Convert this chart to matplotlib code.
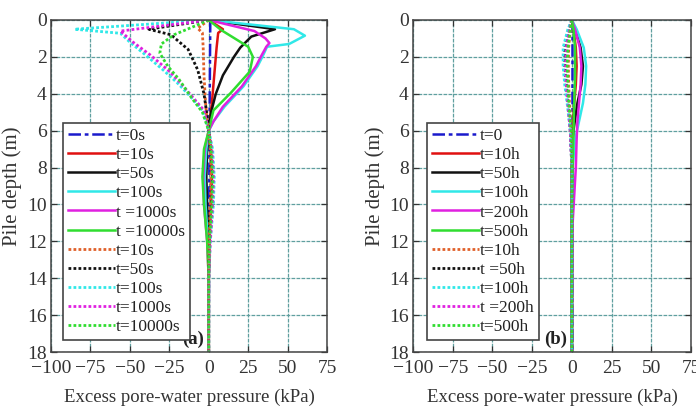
import matplotlib
matplotlib.use("Agg")
import matplotlib.pyplot as plt
import numpy as np

plt.rcParams['font.family'] = ['Liberation Serif', 'DejaVu Serif']
plt.rcParams['axes.unicode_minus'] = True

# ---------------- Panel (a) data ----------------
a_labels = ['t=0s', 't=10s', 't=50s', 't=100s', 't =1000s', 't =10000s',
            't=10s', 't=50s', 't=100s', 't=1000s', 't=10000s']

a_blue_d = [0, 6, 18]
a_blue_v = [1, 0.5, 0]

a_red_d = [0, 0.5, 0.7, 1.5, 3, 4.5, 6, 7, 8.5, 10, 12, 14, 18]
a_red_v = [0, 9, 6, 5, 3.5, 2, 0, 1.5, 2, 1.5, 0.5, 0, 0]

a_blk_d = [0, 0.5, 0.9, 1.5, 2, 3, 4, 5, 6, 7, 8.5, 10, 12, 14, 18]
a_blk_v = [0, 42, 27, 20, 16, 9, 4.5, 1.5, 0, -1, -1.5, -1, 0, 0, 0]

a_cyn_d = [0, 0.5, 0.85, 1.3, 1.45, 2, 2.5, 3.6, 4.7, 5.5, 6, 7, 8.5, 10, 12, 14, 18]
a_cyn_v = [0, 54, 61, 51, 37, 34, 31, 22, 10, 3, 0, -1.5, -2.5, -2, -0.5, 0, 0]

a_mag_d = [0, 0.6, 1.0, 1.25, 1.45, 2, 2.5, 3.6, 4.7, 5.5, 6, 7, 8.5, 10, 12, 14, 18]
a_mag_v = [0, 29, 36, 38.5, 36.5, 33, 30, 21, 9, 3, 0, -2.5, -3.5, -3, -1, 0, 0]

a_grn_d = [0, 0.55, 1.45, 2, 2.8, 3.95, 4.9, 6, 7, 8.5, 10, 12, 14, 18]
a_grn_v = [0, 8, 25, 28, 26, 14, 3, 0, -3, -4, -3, -1, 0, 0]

a_redd_d = [0, 0.45, 0.7, 1.5, 3, 4.5, 5.5, 6, 7, 8.5, 10, 12, 14, 18]
a_redd_v = [0, -7, -4, -3.5, -3, -2, -1, 0, 1, 1.5, 1, 0.3, 0, 0]

a_blkd_d = [0, 0.5, 0.8, 1.6, 2.7, 4, 5.2, 6, 7, 8.5, 10, 12, 14, 18]
a_blkd_v = [0, -38, -24, -13, -7, -3, -1, 0, 1.5, 2.5, 2, 0.5, 0, 0]

a_cynd_d = [0, 0.5, 0.72, 1.2, 1.9, 2.7, 3.4, 4.2, 4.9, 6, 7, 8.5, 10, 12, 14, 18]
a_cynd_v = [0, -85, -56, -50, -40, -29, -20, -11, -4, 0, 2.5, 3.5, 3, 1, 0, 0]

a_magd_d = [0, 0.6, 1.2, 1.9, 2.7, 3.4, 4.2, 4.9, 6, 7, 8.5, 10, 12, 14, 18]
a_magd_v = [0, -56, -48, -37, -26, -18, -10, -3, 0, 2, 3, 2.5, 1, 0, 0]

a_grnd_d = [0, 0.3, 0.8, 1.3, 1.8, 2.5, 3.2, 4.2, 5.0, 6, 7, 8.5, 10, 12, 14, 18]
a_grnd_v = [0, -8, -22, -30, -31, -26, -19, -11, -4, 0, 1.5, 2.5, 2, 0.5, 0, 0]

# ---------------- Panel (b) data ----------------
b_labels = ['t=0', 't=10h', 't=50h', 't=100h', 't=200h', 't=500h',
            't=10h', 't =50h', 't=100h', 't =200h', 't=500h']

b_blue_d = [0, 18]
b_blue_v = [0, 0]

b_std_d = [0, 0.5, 1.5, 2.5, 3.5, 4.5, 6, 8, 18]
b_red_v = [0, 1, 2.5, 3, 2.5, 1.5, 0.5, 0, 0]
b_blk_v = [0, 2, 5.5, 7, 6, 3.5, 1, 0, 0]

b_cyn_d = [0, 0.5, 1.5, 2.5, 3.5, 4.5, 5.5, 6.5, 8, 18]
b_cyn_v = [0, 3, 7.5, 9, 8.5, 7, 4.5, 2, 0.5, 0]

b_mag_d = [0, 0.5, 1.5, 2.5, 3.5, 4.5, 5.5, 6.5, 8, 9.5, 11, 18]
b_mag_v = [0, 2, 5, 6, 5.5, 4.5, 3.5, 3, 2.5, 1.5, 0.5, 0]

b_grn_d = [0, 0.5, 1.5, 3, 4.5, 6, 8, 10, 18]
b_grn_v = [0, 1, 2, 2, 1.5, 1, 0.5, 0, 0]

b_redd_v = [0, -1, -2, -2.2, -2, -1.5, -0.5, 0, 0]
b_blkd_v = [0, -2, -4.5, -4.5, -3.5, -2.5, -1, 0, 0]
b_cynd_v = [0, -2.5, -5.5, -5.5, -4.5, -3, -1, 0, 0]
b_magd_v = [0, -1.5, -3.5, -4, -3.5, -2.5, -1, 0, 0]
b_grnd_v = [0, -1, -2.5, -3, -2.5, -2, -0.5, 0, 0]

x_ticks = [-100, -75, -50, -25, 0, 25, 50, 75]
y_ticks = [0, 2, 4, 6, 8, 10, 12, 14, 16, 18]

# ---------------- styles ----------------
C_BLUE = '#1a1acc'
C_RED = '#e01010'
C_BLK = '#111111'
C_CYN = '#30e8e8'
C_MAG = '#e020e0'
C_GRN = '#30dd30'
C_REDD = '#e0602a'

LW = 1.8
DOT = (0, (1, 0.8))
DASHDOT = (0, (5, 1.5, 1.5, 1.5))


def style_axes(ax, ylab_x):
    ax.set_xlim(-100, 75)
    ax.set_ylim(18, 0)
    ax.set_xticks(x_ticks)
    ax.set_yticks(y_ticks)
    ax.grid(True, color='#5f9f9f', linestyle=(0, (3, 1)), linewidth=0.9)
    ax.set_axisbelow(True)
    ax.tick_params(direction='in', top=True, right=True, length=4,
                   labelsize=14, colors='#333333', width=0.9)
    ax.tick_params(axis='x', pad=5.5)
    ax.tick_params(axis='y', pad=3)
    for s in ax.spines.values():
        s.set_color('#444444')
        s.set_linewidth(1.1)
    ax.set_xlabel('Excess pore-water pressure (kPa)', fontsize=13.5,
                  color='#333333')
    ax.xaxis.set_label_coords(0.5, -0.136)
    ax.xaxis.label.set_va('center')
    ax.set_ylabel('Pile depth (m)', fontsize=15, color='#333333')
    ax.yaxis.set_label_coords(ylab_x, 0.5)
    ax.yaxis.label.set_va('center')


fig = plt.figure(figsize=(6.96, 4.11), dpi=100)
ax1 = fig.add_axes([51 / 696, 59 / 411, 276 / 696, 332 / 411])
ax2 = fig.add_axes([413 / 696, 59 / 411, 278 / 696, 332 / 411])

# Panel (a)
a_series = [
    (a_blue_v, a_blue_d, C_BLUE, DASHDOT, LW),
    (a_red_v, a_red_d, C_RED, '-', LW),
    (a_blk_v, a_blk_d, C_BLK, '-', LW),
    (a_cyn_v, a_cyn_d, C_CYN, '-', LW),
    (a_mag_v, a_mag_d, C_MAG, '-', LW),
    (a_grn_v, a_grn_d, C_GRN, '-', LW),
    (a_redd_v, a_redd_d, C_REDD, DOT, 2.0),
    (a_blkd_v, a_blkd_d, C_BLK, DOT, 2.0),
    (a_cynd_v, a_cynd_d, C_CYN, DOT, 2.0),
    (a_magd_v, a_magd_d, C_MAG, DOT, 2.0),
    (a_grnd_v, a_grnd_d, C_GRN, DOT, 2.0),
]
for (v, d, c, ls, lw), lab in zip(a_series, a_labels):
    ax1.plot(v, d, color=c, linestyle=ls, linewidth=lw, label=lab)

# Panel (b)
b_series = [
    (b_blue_v, b_blue_d, C_BLUE, DASHDOT, LW),
    (b_red_v, b_std_d, C_RED, '-', LW),
    (b_blk_v, b_std_d, C_BLK, '-', LW),
    (b_cyn_v, b_cyn_d, C_CYN, '-', LW),
    (b_mag_v, b_mag_d, C_MAG, '-', LW),
    (b_grn_v, b_grn_d, C_GRN, '-', LW),
    (b_redd_v, b_std_d, C_REDD, DOT, 2.0),
    (b_blkd_v, b_std_d, C_BLK, DOT, 2.0),
    (b_cynd_v, b_std_d, C_CYN, DOT, 2.0),
    (b_magd_v, b_std_d, C_MAG, DOT, 2.0),
    (b_grnd_v, b_std_d, C_GRN, DOT, 2.0),
]
for (v, d, c, ls, lw), lab in zip(b_series, b_labels):
    ax2.plot(v, d, color=c, linestyle=ls, linewidth=lw, label=lab)

for ax, tag, ylab_x, lx in [(ax1, '(a)', -0.141, 0.043), (ax2, '(b)', -0.137, 0.05)]:
    style_axes(ax, ylab_x)
    leg = ax.legend(loc='lower left', bbox_to_anchor=(lx, 0.035),
                    fontsize=12.5, frameon=True, fancybox=False,
                    labelspacing=0.17, handlelength=2.7, handletextpad=0.05,
                    borderpad=0.3, borderaxespad=0.0)
    leg.get_frame().set_edgecolor('#444444')
    leg.get_frame().set_linewidth(1.2)
    leg.get_frame().set_alpha(1)
    for t in leg.get_texts():
        t.set_color('#222222')
    ax.text(-10, 17.3, tag, fontsize=13.5, fontweight='bold',
            ha='center', va='center', color='#222222')

fig.savefig('out.png', dpi=100)
